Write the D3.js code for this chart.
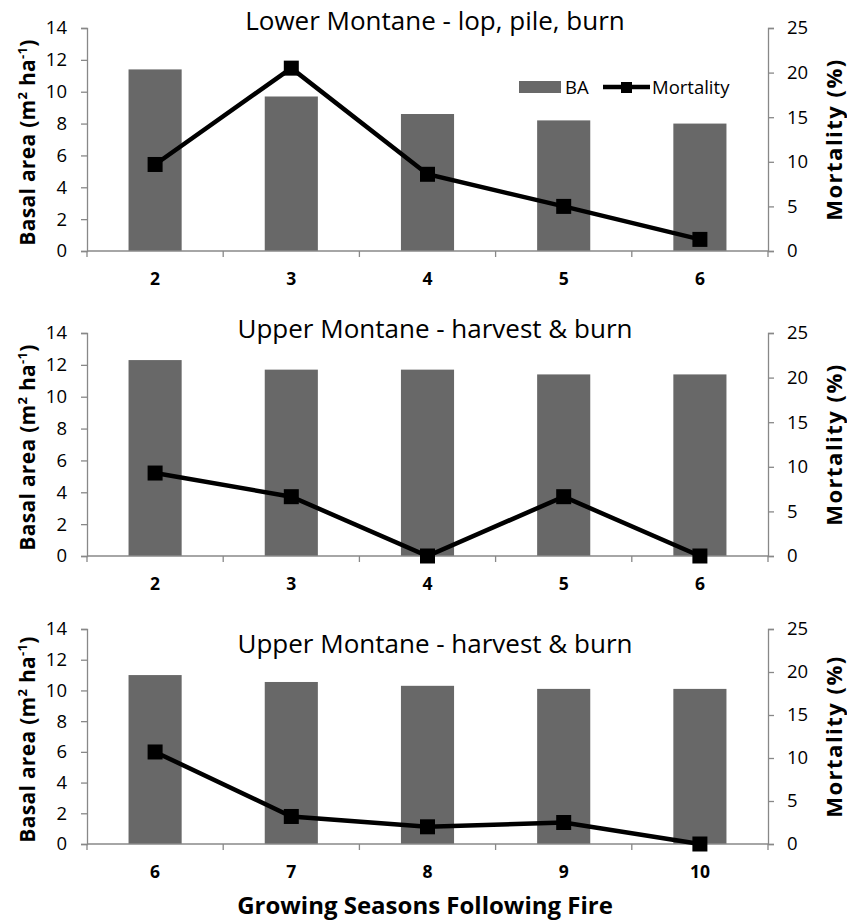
<!DOCTYPE html>
<html>
<head>
<meta charset="utf-8">
<script src="https://cdn.jsdelivr.net/npm/d3@7"></script>
<style>
  body { margin: 0; background: #fff; }
  svg text { font-family: "Open Sans", sans-serif; fill: #000; }
</style>
</head>
<body>
<svg id="chart" width="847" height="923"></svg>
<script>
// panel titles
var titles = ["Lower Montane - lop, pile, burn", "Upper Montane - harvest & burn", "Upper Montane - harvest & burn"];
// growing seasons following fire
var seasons1 = ["2", "3", "4", "5", "6"];
var seasons2 = ["2", "3", "4", "5", "6"];
var seasons3 = ["6", "7", "8", "9", "10"];
// basal area (m2 ha-1)
var ba1 = [11.4, 9.7, 8.6, 8.2, 8.0];
var ba2 = [12.3, 11.7, 11.7, 11.4, 11.4];
var ba3 = [11.0, 10.55, 10.3, 10.1, 10.1];
// mortality (%)
var mort1 = [9.7, 20.5, 8.6, 5.0, 1.3];
var mort2 = [9.3, 6.65, 0, 6.65, 0];
var mort3 = [10.7, 3.2, 2.0, 2.5, 0];
var baTicks = [0, 2, 4, 6, 8, 10, 12, 14];
var mortTicks = [0, 5, 10, 15, 20, 25];

var svg = d3.select("#chart");
var left = 87, right = 768;
var axisColor = "#888";

function panel(i, cats, ba, mort, top, bottom, titleY) {
	var g = svg.append("g");
	var x = d3.scaleBand().domain(cats).range([left, right]).padding(0);
	var yL = d3.scaleLinear().domain([0, 14]).range([bottom, top]);
	var yR = d3.scaleLinear().domain([0, 25]).range([bottom, top]);
	var bw = x.bandwidth() * 0.39;

	g.selectAll("rect.bar").data(ba).enter().append("rect")
		.attr("class", "bar")
		.attr("x", function (d, k) { return x(cats[k]) + (x.bandwidth() - bw) / 2; })
		.attr("y", function (d) { return yL(d); })
		.attr("width", bw)
		.attr("height", function (d) { return yL(0) - yL(d); })
		.attr("fill", "#686868");

	// left axis
	var ax = d3.axisLeft(yL).tickValues(baTicks).tickSize(6).tickPadding(8);
	var gl = g.append("g").attr("transform", "translate(" + left + ",0)").call(ax);
	// right axis
	var ar = d3.axisRight(yR).tickValues(mortTicks).tickSize(6).tickPadding(13);
	var gr = g.append("g").attr("transform", "translate(" + right + ",0)").call(ar);
	// x axis, ticks at category edges
	var edges = cats.map(function (c) { return x(c); }).concat([right]);
	var gx = g.append("g");
	gx.append("line").attr("x1", left).attr("x2", right).attr("y1", bottom).attr("y2", bottom);
	gx.selectAll("line.tk").data(edges).enter().append("line").attr("class", "tk")
		.attr("x1", function (d) { return d; }).attr("x2", function (d) { return d; })
		.attr("y1", bottom).attr("y2", bottom + 6);
	gx.selectAll("line").attr("stroke", axisColor).attr("stroke-width", 1.3);
	gx.selectAll("text").data(cats).enter().append("text")
		.attr("x", function (d) { return x(d) + x.bandwidth() / 2; })
		.attr("y", bottom + 34)
		.attr("text-anchor", "middle")
		.style("font-size", "17.5px").style("font-weight", "bold")
		.text(function (d) { return d; });

	[gl, gr].forEach(function (a) {
		a.select(".domain").attr("stroke", axisColor).attr("stroke-width", 1.3);
		a.selectAll(".tick line").attr("stroke", axisColor).attr("stroke-width", 1.3);
		a.selectAll(".tick text").style("font-size", "18.5px").style("font-family", "'Open Sans', sans-serif").attr("fill", "#000");
	});
	gl.selectAll(".tick text").attr("dx", "-6");

	// mortality line
	var line = d3.line().x(function (d, k) { return x(cats[k]) + x.bandwidth() / 2; }).y(function (d) { return yR(d); });
	g.append("path").datum(mort).attr("d", line).attr("fill", "none").attr("stroke", "#000").attr("stroke-width", 4.5);
	g.selectAll("rect.mk").data(mort).enter().append("rect").attr("class", "mk")
		.attr("x", function (d, k) { return x(cats[k]) + x.bandwidth() / 2 - 7.5; })
		.attr("y", function (d) { return yR(d) - 7.5; })
		.attr("width", 15).attr("height", 15).attr("fill", "#000");

	// title
	g.append("text").attr("x", 435).attr("y", titleY).attr("text-anchor", "middle")
		.style("font-size", "26px").text(titles[i]);

	// axis labels
	var midY = (top + bottom) / 2 + 3;
	var lt = g.append("text").attr("transform", "translate(35," + midY + ") rotate(-90)")
		.attr("text-anchor", "middle").style("font-size", "21px").style("font-weight", "bold")
		.style("letter-spacing", "0.3px");
	lt.append("tspan").text("Basal area (m");
	lt.append("tspan").attr("dy", -8).style("font-size", "13px").text("2");
	lt.append("tspan").attr("dy", 8).text(" ha");
	lt.append("tspan").attr("dy", -8).style("font-size", "13px").text("-1");
	lt.append("tspan").attr("dy", 8).text(")");
	g.append("text").attr("transform", "translate(842," + (midY - 3) + ") rotate(-90)")
		.attr("text-anchor", "middle").style("font-size", "22px").style("font-weight", "bold")
		.style("letter-spacing", "1.5px")
		.text("Mortality (%)");
}

panel(0, seasons1, ba1, mort1, 28, 251, 30);
panel(1, seasons2, ba2, mort2, 333, 556, 338);
panel(2, seasons3, ba3, mort3, 629, 844, 653);

// legend (first panel)
var lg = svg.append("g");
lg.append("rect").attr("x", 519).attr("y", 81).attr("width", 42).attr("height", 12).attr("fill", "#686868");
lg.append("text").attr("x", 565).attr("y", 94).style("font-size", "18.5px").text("BA");
lg.append("line").attr("x1", 603).attr("x2", 650).attr("y1", 87).attr("y2", 87).attr("stroke", "#000").attr("stroke-width", 4.5);
lg.append("rect").attr("x", 621).attr("y", 82).attr("width", 11).attr("height", 11).attr("fill", "#000");
lg.append("text").attr("x", 652).attr("y", 94).style("font-size", "18.5px").text("Mortality");

svg.append("text").attr("x", 425).attr("y", 914).attr("text-anchor", "middle")
	.style("font-size", "24px").style("font-weight", "bold").text("Growing Seasons Following Fire");
</script>
</body>
</html>
